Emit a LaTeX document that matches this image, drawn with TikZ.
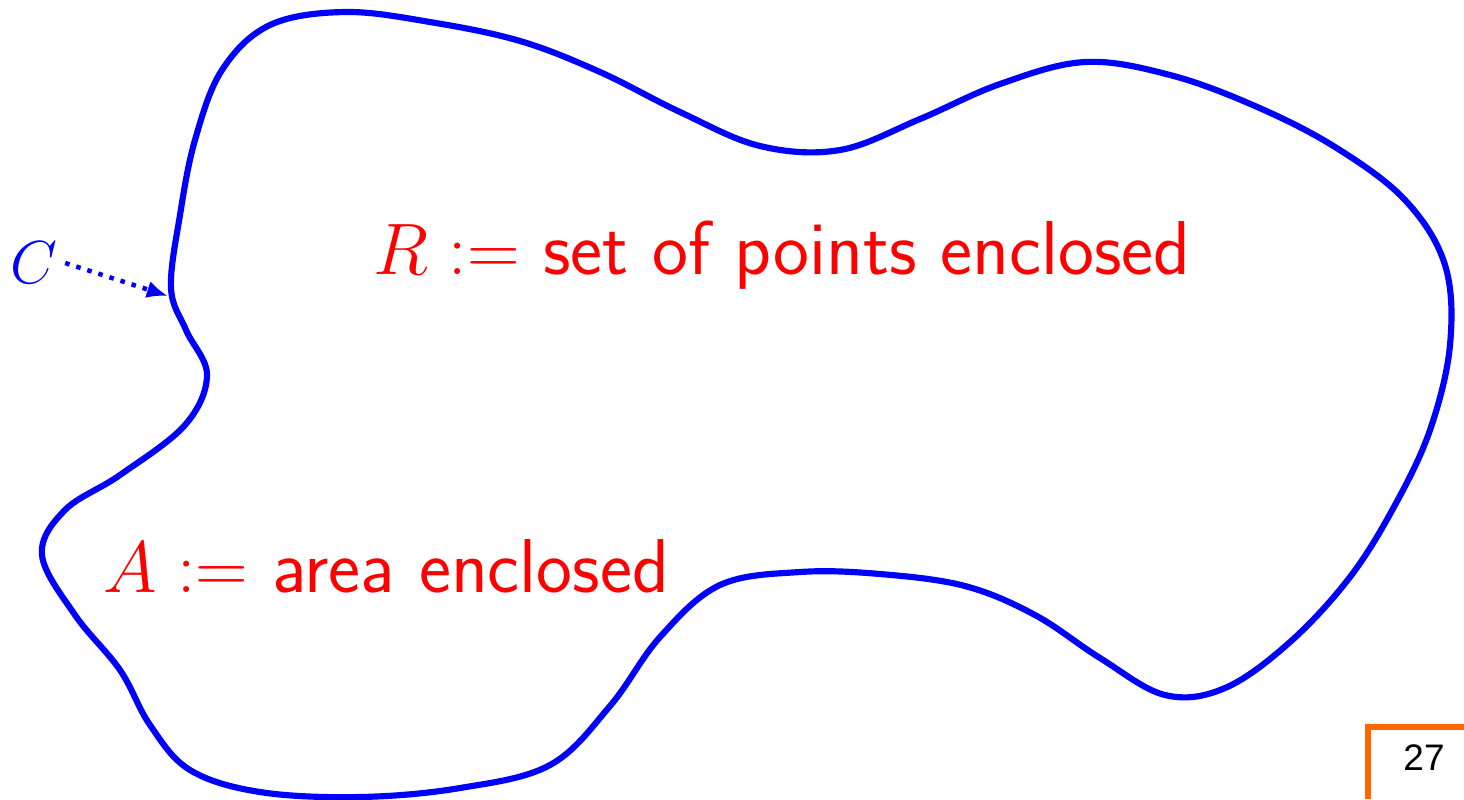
\documentclass[tikz,border=0pt]{standalone}
\usepackage{fontspec}
\usepackage{amsmath}
\usetikzlibrary{arrows.meta, positioning}
\newfontfamily\pagefont{Liberation Sans}
\definecolor{curveblue}{HTML}{0000FF}
\definecolor{labelred}{HTML}{FF0000}
\definecolor{pageorange}{HTML}{FF6600}

\begin{document}
\begin{tikzpicture}[x=0.01cm, y=-0.01cm,
    curve/.style={curveblue, line width=1.75pt, line join=round},
    setlabel/.style={labelred, font=\sffamily\fontsize{21.7}{26}\selectfont, anchor=west, inner sep=0pt},
    pointer/.style={curveblue, dotted, line width=1.3pt, -{Latex[length=6pt, width=5pt]}}]
  \useasboundingbox (0,0) rectangle (1464,799);

  % The closed curve C
  \draw[curve] plot[smooth cycle, tension=0.6] coordinates {
    (171,288) (180,215) (195,140) (222,70) (270,25) (345,12)
    (430,22) (520,41) (600,72) (680,112) (760,146) (840,150)
    (920,119) (1000,84) (1085,62) (1170,75) (1255,106) (1335,147)
    (1405,200) (1445,265) (1450,345) (1430,430) (1395,505)
    (1350,577) (1290,642) (1225,688) (1165,695) (1100,658)
    (1035,615) (965,586) (880,574) (800,572) (720,585)
    (660,637) (610,706) (550,765) (460,788) (360,797) (260,792)
    (190,770) (150,725) (120,670) (75,615) (42,555) (65,510)
    (120,475) (185,425) (207,375) (186,330)};

  % Labels
  \node[curveblue, font=\fontsize{18.5}{22}\selectfont, inner sep=0pt] (cname) at (34,263) {$C$};
  \coordinate (cpoint) at (168,296);
  \draw[pointer] (cname.east) ++(2pt,0) -- (cpoint);

  \node[setlabel] (rset) at (373,255) {$R:=$ set of points enclosed};
  \node[setlabel] (aarea) at (103,566) {$A:=$ area enclosed};

  % Page number
  \draw[pageorange, line width=1.7pt] (1368,799) -- (1368,727) -- (1464,727);
  \node[font=\pagefont\fontsize{10.5}{12}\selectfont] (pagenum) at (1424,758) {27};
\end{tikzpicture}
\end{document}
